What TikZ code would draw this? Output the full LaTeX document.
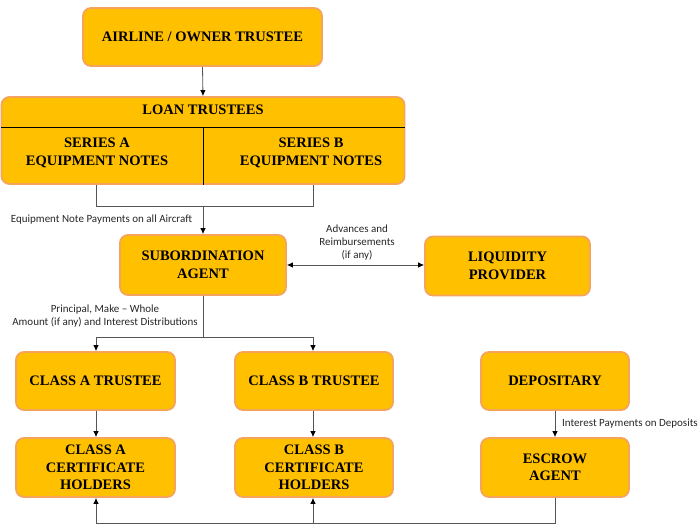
\documentclass[tikz,border=0pt]{standalone}
\usepackage{fontspec}
\setmainfont{Liberation Serif}
\newfontfamily\lblfont{Carlito}
\usetikzlibrary{arrows.meta,calc}
\definecolor{boxfill}{HTML}{FFC000}
\definecolor{boxedge}{HTML}{F4A45C}
\definecolor{linegray}{HTML}{555555}
\tikzset{
  ent/.style={draw=boxedge, line width=1.8pt, fill=boxfill, rounded corners=8pt,
    align=center, inner sep=0pt, font=\fontsize{14.5}{17.5}\selectfont\bfseries},
  plain/.style={align=center, inner sep=0pt, font=\fontsize{14.5}{17.5}\selectfont\bfseries},
  conn/.style={draw=linegray, line width=0.8pt},
  arr/.style={conn, -{Latex[length=6pt,width=5.5pt,color=black]}},
  darr/.style={conn, {Latex[length=6pt,width=5.5pt,color=black]}-{Latex[length=6pt,width=5.5pt,color=black]}},
  lbl/.style={align=center, inner sep=0pt, font=\lblfont\fontsize{11}{13}\selectfont, text=black!85}
}
\begin{document}
\begin{tikzpicture}[x=1pt,y=-1pt]
\useasboundingbox (0,0) rectangle (699,527);
% boxes
\node[ent, minimum width=239pt, minimum height=58pt] (airline) at (202.5,37) {AIRLINE / OWNER TRUSTEE};
\node[ent, minimum width=403pt, minimum height=87pt] (loan) at (203,140.5) {};
\node[plain] (loantitle) at (203,110) {LOAN TRUSTEES};
\node[plain] (serA) at (97,153) {SERIES A\\EQUIPMENT NOTES};
\node[plain] (serB) at (311,153) {SERIES B\\EQUIPMENT NOTES};
\draw[black, line width=0.8pt] ($(loan.west)+(0,-13.5)$) coordinate (divL) -- ($(loan.east)+(0,-13.5)$) coordinate (divR);
\draw[black, line width=0.8pt] ($(loan.south)+(0,-57)$) coordinate (divT) -- (loan.south);
\node[ent, minimum width=166pt, minimum height=60pt] (sub) at (203,265) {SUBORDINATION\\AGENT};
\node[ent, minimum width=165pt, minimum height=59pt] (liq) at (507.5,266) {LIQUIDITY\\PROVIDER};
\node[ent, minimum width=159pt, minimum height=58pt] (trA) at (95.5,381) {CLASS A TRUSTEE};
\node[ent, minimum width=158pt, minimum height=58pt] (trB) at (314,381) {CLASS B TRUSTEE};
\node[ent, minimum width=148pt, minimum height=58pt] (dep) at (555,381) {DEPOSITARY};
\node[ent, minimum width=159pt, minimum height=59pt] (hA) at (95.5,467.5) {CLASS A\\CERTIFICATE\\HOLDERS};
\node[ent, minimum width=158pt, minimum height=59pt] (hB) at (314,467.5) {CLASS B\\CERTIFICATE\\HOLDERS};
\node[ent, minimum width=148pt, minimum height=59pt] (esc) at (555,467.5) {ESCROW\\AGENT};
% connectors
\draw[arr] (airline.south) -- (loan.north);
\coordinate (jL) at (96,206);
\coordinate (jR) at (313,206);
\draw[conn] (loan.south -| jL) -- (jL) -- (jR) -- (loan.south -| jR);
\draw[arr] (jL -| sub.north) -- (sub.north);
\draw[darr] (sub.east) -- (liq.west |- sub.east);
\coordinate (kL) at (96,337);
\coordinate (kR) at (313,337);
\draw[conn] (sub.south) -- (kL -| sub.south);
\draw[conn] (kL) -- (kR);
\draw[arr] (kL) -- (kL |- trA.north);
\draw[arr] (kR) -- (kR |- trB.north);
\draw[arr] (trA.south -| kL) -- (hA.north -| kL);
\draw[arr] (trB.south -| kR) -- (hB.north -| kR);
\draw[arr] (dep.south) -- (esc.north);
\coordinate (bR) at (555,523);
\draw[conn] (esc.south) -- (bR) -- (bR -| kL);
\draw[arr] (bR -| kL) -- (hA.south -| kL);
\draw[arr] (bR -| kR) -- (hB.south -| kR);
% labels
\node[lbl] (l1) at (101.5,220) {Equipment Note Payments on all Aircraft};
\node[lbl] (l2) at (357,243) {Advances and\\Reimbursements\\(if any)};
\node[lbl] (l3) at (105,316.5) {Principal, Make – Whole\\Amount (if any) and Interest Distributions};
\node[lbl, anchor=east] (l4) at (698,424) {Interest Payments on Deposits};
\end{tikzpicture}
\end{document}
